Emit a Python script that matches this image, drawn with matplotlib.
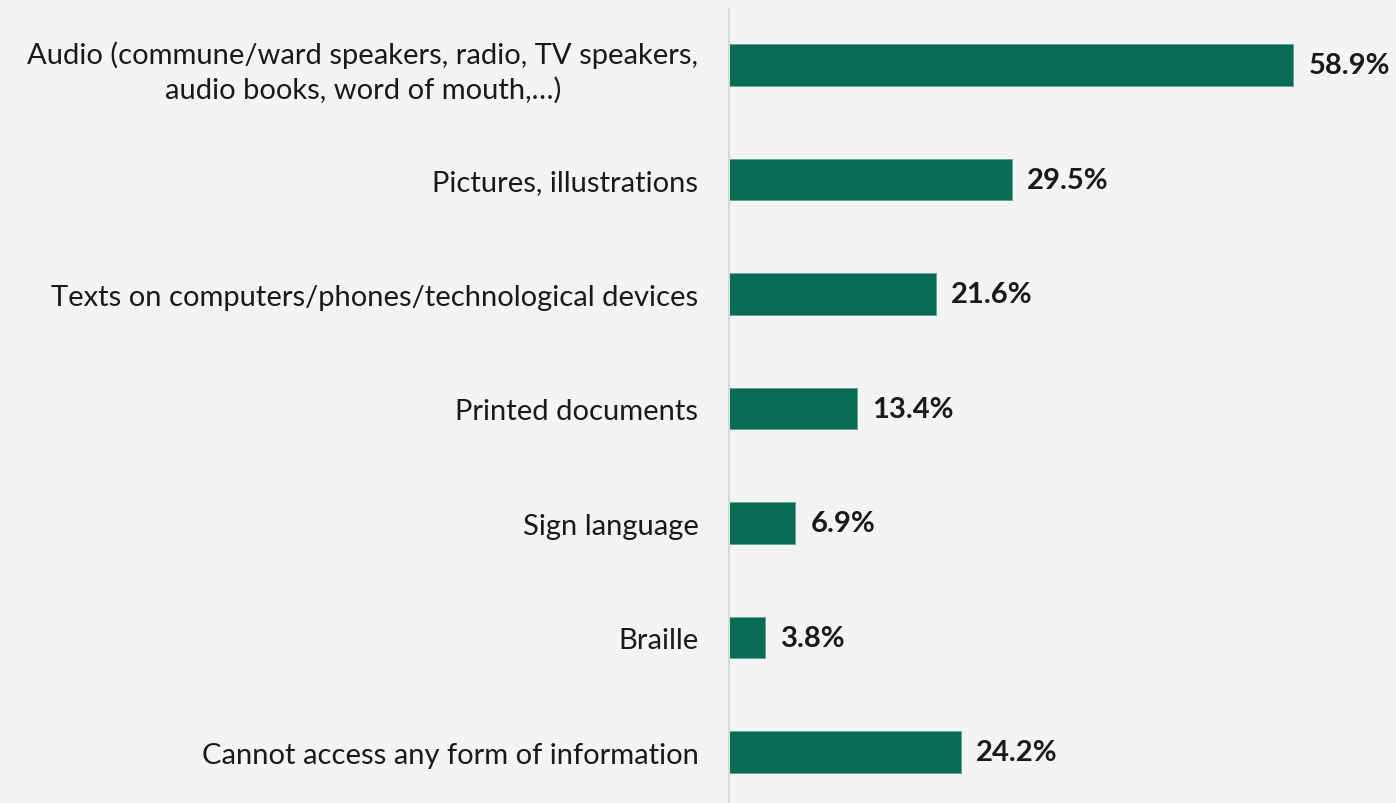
import matplotlib
matplotlib.use("Agg")
import matplotlib.pyplot as plt

categories = [
    "Audio (commune/ward speakers, radio, TV speakers,\naudio books, word of mouth,…)",
    "Pictures, illustrations",
    "Texts on computers/phones/technological devices",
    "Printed documents",
    "Sign language",
    "Braille",
    "Cannot access any form of information",
]
values = [58.9, 29.5, 21.6, 13.4, 6.9, 3.8, 24.2]
value_labels = ["58.9%", "29.5%", "21.6%", "13.4%", "6.9%", "3.8%", "24.2%"]

bg = "#f4f4f4"
bar_color = "#086b53"
font = ["Lato", "DejaVu Sans"]

fig = plt.figure(figsize=(13.96, 8.04), dpi=100, facecolor=bg)
ax = fig.add_axes([729 / 1396, 0, 1 - 729 / 1396, 1 - 10 / 804])
ax.set_facecolor(bg)

pos = list(range(len(categories)))
ax.barh(pos, values, height=0.36, color=bar_color, edgecolor="#5fa597", linewidth=0.6)

for y, v, lab in zip(pos, values, value_labels):
    ax.annotate(lab, (v, y), xytext=(11, 0), textcoords="offset points",
                va="center", ha="left", fontsize=21, fontweight="bold",
                color="#1a1a1a", family=font)

ax.set_xlim(0, 69.65)
ax.set_ylim(6.445, -0.489)
ax.set_yticks(pos)
ax.set_yticklabels(categories, fontsize=21, color="#1a1a1a", family=font,
                   linespacing=1.38, ha="right", multialignment="center")
ax.tick_params(axis="y", length=0, pad=22)
ax.set_xticks([])
for s in ["top", "right", "bottom"]:
    ax.spines[s].set_visible(False)
ax.spines["left"].set_color("#d9d9d9")
ax.spines["left"].set_linewidth(1.5)

fig.savefig("out.png", dpi=100, facecolor=bg)
